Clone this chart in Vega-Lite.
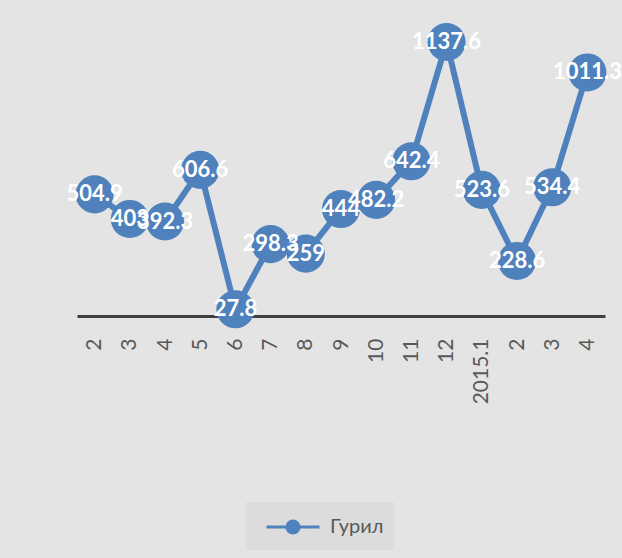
{
  "$schema": "https://vega.github.io/schema/vega-lite/v6.json",
  "autosize": "none",
  "width": 528,
  "height": 289,
  "padding": {"left": 77, "top": 27, "right": 17, "bottom": 242},
  "background": "#e4e4e4",
  "data": {
    "values": [
      {"period": "2014.2", "v": 504.9, "s": "Гурил"},
      {"period": "2014.3", "v": 403, "s": "Гурил"},
      {"period": "2014.4", "v": 392.3, "s": "Гурил"},
      {"period": "2014.5", "v": 606.6, "s": "Гурил"},
      {"period": "2014.6", "v": 27.8, "s": "Гурил"},
      {"period": "2014.7", "v": 298.3, "s": "Гурил"},
      {"period": "2014.8", "v": 259, "s": "Гурил"},
      {"period": "2014.9", "v": 444, "s": "Гурил"},
      {"period": "2014.10", "v": 482.2, "s": "Гурил"},
      {"period": "2014.11", "v": 642.4, "s": "Гурил"},
      {"period": "2014.12", "v": 1137.6, "s": "Гурил"},
      {"period": "2015.1", "v": 523.6, "s": "Гурил"},
      {"period": "2015.2", "v": 228.6, "s": "Гурил"},
      {"period": "2015.3", "v": 534.4, "s": "Гурил"},
      {"period": "2015.4", "v": 1011.3, "s": "Гурил"}
    ]
  },
  "encoding": {
    "x": {
      "field": "period",
      "type": "nominal",
      "sort": null,
      "scale": {"paddingInner": 0, "paddingOuter": 0},
      "axis": {
        "title": null,
        "labelAngle": 270,
        "labelAlign": "right",
        "labelBaseline": "middle",
        "labelPadding": 22,
        "labelFont": "Lato",
        "labelFontSize": 21,
        "labelColor": "#595959",
        "ticks": false,
        "domainColor": "#404040",
        "domainWidth": 3,
        "grid": false,
        "labelExpr": "datum.value == '2015.1' ? '2015.1' : split(datum.value, '.')[1]"
      }
    },
    "y": {
      "field": "v",
      "type": "quantitative",
      "scale": {"domain": [0, 1200]},
      "axis": null
    },
    "color": {
      "field": "s",
      "type": "nominal",
      "scale": {"range": ["#4f81bd"]},
      "legend": {
        "title": null,
        "orient": "none",
        "legendX": 169,
        "legendY": 475,
        "fillColor": "#dcdcdc",
        "padding": 10,
        "symbolType": "M-2,0L2,0M-0.46,0A0.46,0.46 0 1,1 0.46,0A0.46,0.46 0 1,1 -0.46,0Z",
        "symbolSize": 702,
        "symbolOffset": 22,
        "symbolStrokeWidth": 3,
        "symbolFillColor": "#4f81bd",
        "symbolStrokeColor": "#4f81bd",
        "symbolOpacity": 1,
        "labelFont": "Lato",
        "labelFontSize": 20,
        "labelColor": "#595959",
        "labelOffset": 22
      }
    }
  },
  "layer": [
    {"mark": {"type": "line", "strokeWidth": 6, "clip": false}},
    {"mark": {"type": "point", "filled": true, "size": 1450, "opacity": 1, "clip": false}},
    {
      "mark": {
        "type": "text",
        "color": "white",
        "font": "Lato",
        "fontWeight": "bold",
        "fontSize": 22,
        "baseline": "middle",
        "align": "center",
        "clip": false
      },
      "encoding": {
        "text": {"field": "v", "type": "nominal"},
        "color": {"value": "white"}
      }
    }
  ],
  "config": {"view": {"stroke": null}}
}
